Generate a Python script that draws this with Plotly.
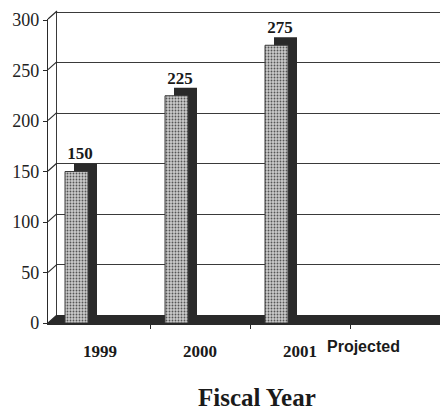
import plotly.graph_objects as go

years = ["1999", "2000", "2001"]
values = [150, 225, 275]
y_ticks = [0, 50, 100, 150, 200, 250, 300]
x_title = "Fiscal Year"
note = "Projected"

# the page adds an 8px body margin, so the figure is drawn 8px smaller
OFF = 8
W, H = 448 - OFF, 413 - OFF
serif = "Liberation Serif"
sans = "Liberation Sans"
ink = "#2a2a2a"


def px(x):
    return (x - OFF) / W


def py(y):
    return 1 - (y - OFF) / H


# front plane (axis with labels) and back wall (gridlines), offset for the 3D look
front_x = [px(48), 1]
front_y = [py(323), py(19)]
back_x = [px(57), 1]
back_y = [py(315), py(11)]
y_max = 300

idx = list(range(len(years)))

fig = go.Figure()

# back faces of the bars (dark)
fig.add_trace(go.Bar(
    x=idx, y=values, xaxis="x", yaxis="y",
    width=0.23, offset=-0.35,
    marker=dict(color=ink, line=dict(width=0)),
    hoverinfo="skip", showlegend=False,
))

# value labels
fig.add_trace(go.Scatter(
    x=[i - 0.29 for i in idx], y=values, xaxis="x", yaxis="y",
    mode="text", text=[str(v) for v in values], textposition="top center",
    textfont=dict(family=serif, size=17, color="#1a1a1a", weight="bold"),
    hoverinfo="skip", showlegend=False,
))

# front faces (speckled grey)
fig.add_trace(go.Bar(
    x=idx, y=values, xaxis="x2", yaxis="y2",
    width=0.23, offset=-0.35,
    marker=dict(
        color="#c4c4c4",
        line=dict(width=1, color="#3a3a3a"),
        pattern=dict(shape=".", fgcolor="#555555", bgcolor="#cacaca",
                     size=3, solidity=0.3),
    ),
    hoverinfo="skip", showlegend=False,
))

shapes = []
# floor
shapes.append(dict(
    type="path", xref="paper", yref="paper", layer="below",
    path=f"M {front_x[0]},{front_y[0]} L 1,{front_y[0]} L 1,{back_y[0]} "
         f"L {back_x[0]},{back_y[0]} Z",
    fillcolor=ink, line=dict(width=0),
))
# diagonal tick connectors between front axis and back wall
for v in y_ticks:
    yf = front_y[0] + (front_y[1] - front_y[0]) * v / y_max
    yb = back_y[0] + (back_y[1] - back_y[0]) * v / y_max
    shapes.append(dict(
        type="line", xref="paper", yref="paper",
        x0=front_x[0], y0=yf, x1=back_x[0], y1=yb,
        line=dict(color=ink, width=1.2),
    ))

fig.update_layout(
    width=W, height=H,
    template="none",
    paper_bgcolor="white",
    plot_bgcolor="rgba(0,0,0,0)",
    margin=dict(l=0, r=0, t=0, b=0),
    barmode="overlay",
    showlegend=False,
    xaxis=dict(
        domain=back_x, range=[-0.52, 3.39], anchor="y",
        visible=False, fixedrange=True,
    ),
    yaxis=dict(
        domain=back_y, range=[0, 301], anchor="x",
        tickvals=y_ticks, showticklabels=False, ticks="",
        showgrid=True, gridcolor="#3a3a3a", gridwidth=1.3,
        zeroline=False, showline=True, linecolor="#3a3a3a", linewidth=1.3,
    ),
    xaxis2=dict(
        domain=front_x, range=[-0.52, 3.48], anchor="y2",
        tickvals=idx, ticktext=years, ticks="",
        ticklabelstandoff=12,
        tickfont=dict(family=serif, size=17, color="#1a1a1a", weight="bold"),
        minor=dict(tickvals=[i + 0.5 for i in idx], ticks="outside",
                   ticklen=4, tickcolor=ink, tickwidth=1),
        showgrid=False, zeroline=False,
        showline=True, linecolor=ink, linewidth=2,
    ),
    yaxis2=dict(
        domain=front_y, range=[0, 301], anchor="x2",
        tickvals=y_ticks, ticks="outside", ticklen=4, tickcolor=ink,
        tickfont=dict(family=serif, size=18, color="#222222"),
        showgrid=False, zeroline=False,
        showline=True, linecolor=ink, linewidth=1.3,
    ),
    shapes=shapes,
    annotations=[
        dict(x=2.25, y=py(346), xref="x2", yref="paper", text=note,
             showarrow=False, xanchor="left", yanchor="middle",
             font=dict(family=sans, size=16, color="#1a1a1a", weight="bold")),
        dict(x=px(257), y=py(397), xref="paper", yref="paper", text=x_title,
             showarrow=False, xanchor="center", yanchor="middle",
             font=dict(family=serif, size=25, color="#1a1a1a", weight="bold")),
    ],
)

fig.write_html("out.html")
